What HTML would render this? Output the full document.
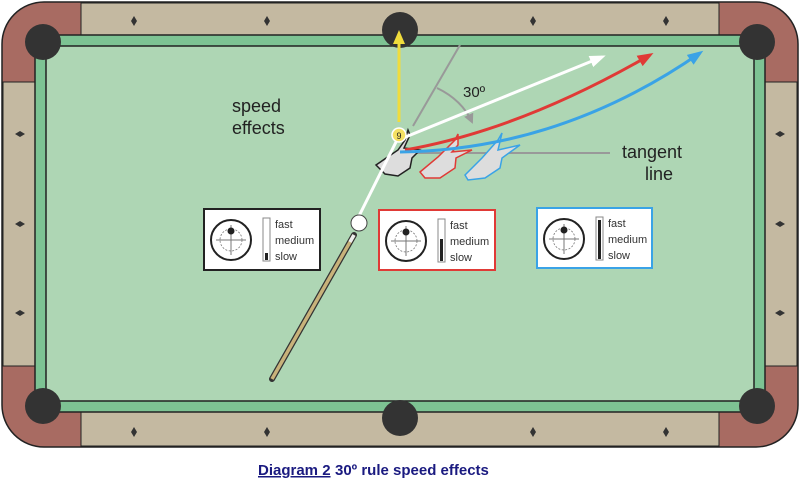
<!DOCTYPE html>
<html><head><style>
body{margin:0;background:#fff;}
svg{display:block;font-family:"Liberation Sans",Arial,sans-serif;}
</style></head><body>
<svg width="800" height="484" viewBox="0 0 800 484" xmlns="http://www.w3.org/2000/svg">
<defs>
<marker id="ar" markerWidth="16" markerHeight="12" refX="12" refY="6" orient="auto" markerUnits="userSpaceOnUse"><path d="M0,0 L16,6 L0,12z" fill="#e03a36"/></marker>
<marker id="ab" markerWidth="16" markerHeight="12" refX="12" refY="6" orient="auto" markerUnits="userSpaceOnUse"><path d="M0,0 L16,6 L0,12z" fill="#3aa3e6"/></marker>
<marker id="awh" markerWidth="16" markerHeight="12" refX="12" refY="6" orient="auto" markerUnits="userSpaceOnUse"><path d="M0,0 L16,6 L0,12z" fill="#fff"/></marker>
<marker id="ay" markerWidth="14" markerHeight="12" refX="10" refY="6" orient="auto" markerUnits="userSpaceOnUse"><path d="M0,0 L14,6 L0,12z" fill="#f0dc3c"/></marker>
<marker id="ag" markerWidth="10" markerHeight="10" refX="8" refY="5" orient="auto" markerUnits="userSpaceOnUse"><path d="M0,0 L10,5 L0,10z" fill="#999"/></marker>
</defs>
<rect x="2" y="2" width="796" height="445" rx="42" fill="#a86b62" stroke="#222" stroke-width="1.5"/>
<rect x="81" y="3" width="638" height="33" fill="#c4b9a1" stroke="#222" stroke-width="1"/>
<rect x="81" y="412" width="638" height="34" fill="#c4b9a1" stroke="#222" stroke-width="1"/>
<rect x="3" y="82" width="33" height="284" fill="#c4b9a1" stroke="#222" stroke-width="1"/>
<rect x="764" y="82" width="33" height="284" fill="#c4b9a1" stroke="#222" stroke-width="1"/>
<rect x="35" y="35" width="730" height="377" fill="#7dc393" stroke="#222" stroke-width="1.5"/>
<rect x="46" y="46" width="708" height="355" fill="#aed6b4" stroke="#222" stroke-width="1.5"/>
<g fill="#333">
<circle cx="43" cy="42" r="18"/><circle cx="757" cy="42" r="18"/>
<circle cx="43" cy="406" r="18"/><circle cx="757" cy="406" r="18"/>
<circle cx="400" cy="30" r="18"/><circle cx="400" cy="418" r="18"/>
</g>
<g fill="#333">
<path d="M134,16 l3,5 -3,5 -3,-5z"/><path d="M267,16 l3,5 -3,5 -3,-5z"/><path d="M533,16 l3,5 -3,5 -3,-5z"/><path d="M666,16 l3,5 -3,5 -3,-5z"/>
<path d="M134,427 l3,5 -3,5 -3,-5z"/><path d="M267,427 l3,5 -3,5 -3,-5z"/><path d="M533,427 l3,5 -3,5 -3,-5z"/><path d="M666,427 l3,5 -3,5 -3,-5z"/>
<path d="M15,134 l5,-3 5,3 -5,3z"/><path d="M15,224 l5,-3 5,3 -5,3z"/><path d="M15,313 l5,-3 5,3 -5,3z"/>
<path d="M775,134 l5,-3 5,3 -5,3z"/><path d="M775,224 l5,-3 5,3 -5,3z"/><path d="M775,313 l5,-3 5,3 -5,3z"/>
</g>
<text x="232" y="112" font-size="18" fill="#222">speed</text>
<text x="232" y="134" font-size="18" fill="#222">effects</text>
<line x1="413" y1="126" x2="460" y2="45" stroke="#999" stroke-width="2"/>
<path d="M437,88 Q462,100 472,122" fill="none" stroke="#999" stroke-width="2" marker-end="url(#ag)"/>
<text x="463" y="97" font-size="15" fill="#222">30º</text>
<line x1="400" y1="153" x2="610" y2="153" stroke="#999" stroke-width="2"/>
<text x="622" y="158" font-size="18" fill="#222">tangent</text>
<text x="645" y="180" font-size="18" fill="#222">line</text>
<path d="M376,165 L398,150 L405,140 L408,130 L410,135 L404,148 L420,150 L412,158 L410,168 L398,176 L385,174z" fill="#ddd" stroke="#222" stroke-width="1.5"/>
<path d="M420,172 L438,157 L455,140 L458,134 L458,145 L452,152 L472,150 L456,158 L455,168 L440,178 L425,178z" fill="#ddd" stroke="#e03a36" stroke-width="1.5"/>
<path d="M465,175 L482,158 L498,140 L502,133 L498,150 L520,145 L502,158 L500,168 L485,178 L468,180z" fill="#ddd" stroke="#3aa3e6" stroke-width="1.5"/>
<path d="M405,150 Q520,130 650,55" fill="none" stroke="#e03a36" stroke-width="3" marker-end="url(#ar)"/>
<path d="M400,152 Q560,150 700,53" fill="none" stroke="#3aa3e6" stroke-width="3" marker-end="url(#ab)"/>
<line x1="403" y1="138" x2="602" y2="57" stroke="#fff" stroke-width="3" marker-end="url(#awh)"/>
<line x1="399" y1="122" x2="399" y2="34" stroke="#f0dc3c" stroke-width="3" marker-end="url(#ay)"/>
<line x1="358" y1="218" x2="396" y2="142" stroke="#fff" stroke-width="3"/>
<circle cx="399" cy="135" r="7" fill="#f5e063" stroke="#fff" stroke-width="1.5"/>
<text x="399" y="139" font-size="9" text-anchor="middle" fill="#222">9</text>
<circle cx="359" cy="223" r="8" fill="#fff" stroke="#444" stroke-width="1"/>
<line x1="354" y1="235" x2="272" y2="379" stroke="#333" stroke-width="6" stroke-linecap="round"/>
<line x1="354" y1="235" x2="272" y2="379" stroke="#c8b27a" stroke-width="3.5"/>
<line x1="354" y1="235" x2="350" y2="242" stroke="#eee" stroke-width="3.5"/>
<g font-size="11" fill="#333">
<g transform="translate(204,209)">
<rect x="0" y="0" width="116" height="61" fill="#fff" stroke="#222" stroke-width="2"/>
<circle cx="27" cy="31" r="20" fill="none" stroke="#222" stroke-width="2"/>
<circle cx="27" cy="31" r="11" fill="none" stroke="#777" stroke-width="0.8" stroke-dasharray="2,1.5"/>
<line x1="12" y1="31" x2="42" y2="31" stroke="#777"/><line x1="27" y1="16" x2="27" y2="46" stroke="#777"/>
<circle cx="27" cy="22" r="3.5" fill="#222"/>
<rect x="59" y="9" width="7" height="43" fill="#fff" stroke="#888"/>
<rect x="61" y="44" width="3" height="7" fill="#222"/>
<text x="71" y="19">fast</text><text x="71" y="35">medium</text><text x="71" y="51">slow</text>
</g>
<g transform="translate(379,210)">
<rect x="0" y="0" width="116" height="60" fill="#fff" stroke="#e03a36" stroke-width="2"/>
<circle cx="27" cy="31" r="20" fill="none" stroke="#222" stroke-width="2"/>
<circle cx="27" cy="31" r="11" fill="none" stroke="#777" stroke-width="0.8" stroke-dasharray="2,1.5"/>
<line x1="12" y1="31" x2="42" y2="31" stroke="#777"/><line x1="27" y1="16" x2="27" y2="46" stroke="#777"/>
<circle cx="27" cy="22" r="3.5" fill="#222"/>
<rect x="59" y="9" width="7" height="43" fill="#fff" stroke="#888"/>
<rect x="61" y="29" width="3" height="22" fill="#222"/>
<text x="71" y="19">fast</text><text x="71" y="35">medium</text><text x="71" y="51">slow</text>
</g>
<g transform="translate(537,208)">
<rect x="0" y="0" width="115" height="60" fill="#fff" stroke="#3aa3e6" stroke-width="2"/>
<circle cx="27" cy="31" r="20" fill="none" stroke="#222" stroke-width="2"/>
<circle cx="27" cy="31" r="11" fill="none" stroke="#777" stroke-width="0.8" stroke-dasharray="2,1.5"/>
<line x1="12" y1="31" x2="42" y2="31" stroke="#777"/><line x1="27" y1="16" x2="27" y2="46" stroke="#777"/>
<circle cx="27" cy="22" r="3.5" fill="#222"/>
<rect x="59" y="9" width="7" height="43" fill="#fff" stroke="#888"/>
<rect x="61" y="12" width="3" height="39" fill="#222"/>
<text x="71" y="19">fast</text><text x="71" y="35">medium</text><text x="71" y="51">slow</text>
</g>
</g>
<text x="258" y="475" font-size="15" font-weight="bold" fill="#1a1a80" text-decoration="underline">Diagram 2</text>
<text x="335" y="475" font-size="15" font-weight="bold" fill="#1a1a80">30º rule speed effects</text>
</svg>
</body></html>
